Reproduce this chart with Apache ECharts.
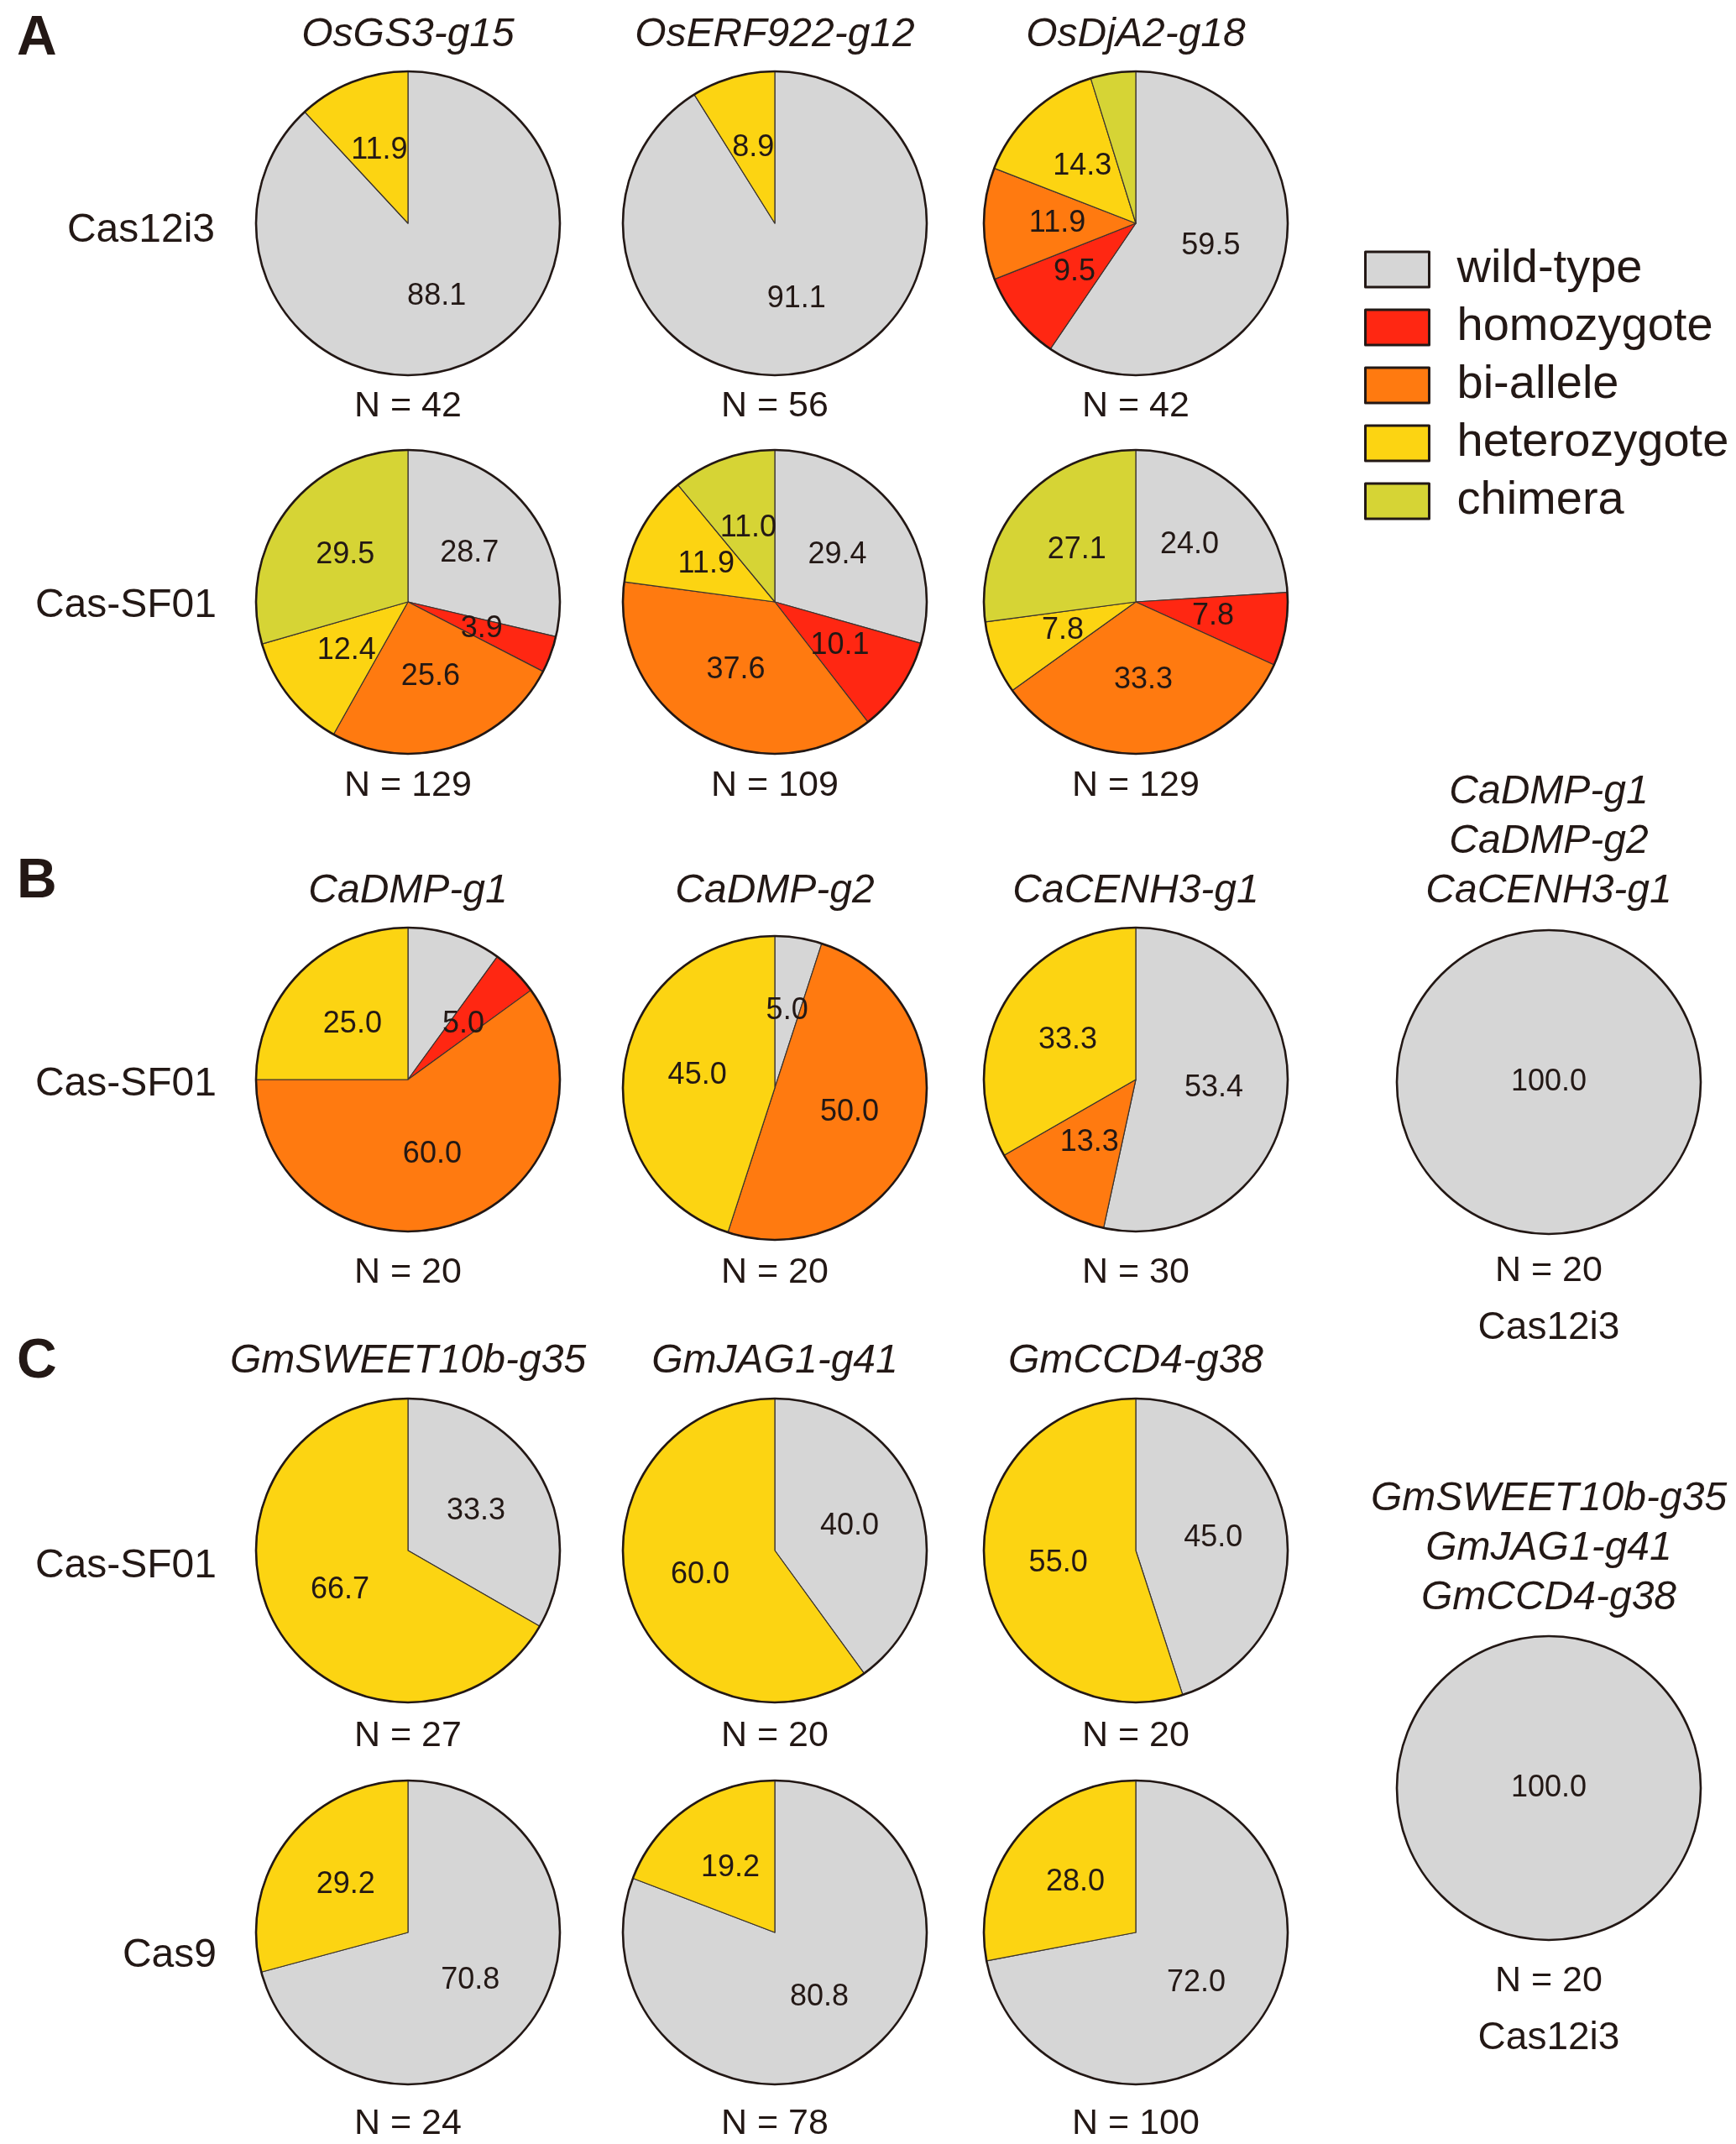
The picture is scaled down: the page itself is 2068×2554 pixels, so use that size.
<!DOCTYPE html>
<html>
<head>
<meta charset="utf-8">
<script src="https://cdn.jsdelivr.net/npm/echarts@6/dist/echarts.min.js"></script>
<style>
html,body{margin:0;padding:0;background:#fff;}
#c{width:2068px;height:2554px;}
</style>
</head>
<body>
<div id="c"></div>
<script>
// ---- DATA ----
const categories = ['wild-type', 'homozygote', 'bi-allele', 'heterozygote', 'chimera'];
const catColors = ['#D6D6D6', '#FF2712', '#FF7A10', '#FCD412', '#D6D435'];

// Panel A (rice)
const genesA = ['OsGS3-g15', 'OsERF922-g12', 'OsDjA2-g18'];
const A_Cas12i3 = [[88.1, 0, 0, 11.9, 0], [91.1, 0, 0, 8.9, 0], [59.5, 9.5, 11.9, 14.3, 4.8]];
const A_Cas12i3_N = [42, 56, 42];
const A_CasSF01 = [[28.7, 3.9, 25.6, 12.4, 29.5], [29.4, 10.1, 37.6, 11.9, 11.0], [24.0, 7.8, 33.3, 7.8, 27.1]];
const A_CasSF01_N = [129, 109, 129];

// Panel B (pepper)
const genesB = ['CaDMP-g1', 'CaDMP-g2', 'CaCENH3-g1'];
const B_CasSF01 = [[10.0, 5.0, 60.0, 25.0, 0], [5.0, 0, 50.0, 45.0, 0], [53.4, 0, 13.3, 33.3, 0]];
const B_CasSF01_N = [20, 20, 30];
const B_Cas12i3 = [100.0, 0, 0, 0, 0];
const B_Cas12i3_N = 20;

// Panel C (soybean)
const genesC = ['GmSWEET10b-g35', 'GmJAG1-g41', 'GmCCD4-g38'];
const C_CasSF01 = [[33.3, 0, 0, 66.7, 0], [40.0, 0, 0, 60.0, 0], [45.0, 0, 0, 55.0, 0]];
const C_CasSF01_N = [27, 20, 20];
const C_Cas9 = [[70.8, 0, 0, 29.2, 0], [80.8, 0, 0, 19.2, 0], [72.0, 0, 0, 28.0, 0]];
const C_Cas9_N = [24, 78, 100];
const C_Cas12i3 = [100.0, 0, 0, 0, 0];
const C_Cas12i3_N = 20;

// ---- LAYOUT ----
const FONT = '"Liberation Sans", Arial, Helvetica, sans-serif';
const INK = '#231815';
const R = 181;
const colX = [486, 923, 1353];
const rightX = 1845;
const TITLE = 48, ROW = 48, NSZ = 43, LAB = 36;

const series = [];
const graphics = [];

function txt(text, x, y, size, opts) {
  opts = opts || {};
  graphics.push({
    type: 'text', x: x, y: y, silent: true,
    style: {
      text: text, fill: INK,
      font: (opts.style || 'normal') + ' ' + (opts.weight || 'normal') + ' ' + size + 'px ' + FONT,
      align: opts.align || 'center', verticalAlign: 'middle'
    }
  });
}

function pie(values, cx, cy) {
  const data = [];
  values.forEach((v, i) => {
    if (v > 0) data.push({ name: categories[i], value: v, itemStyle: { color: catColors[i] } });
  });
  series.push({
    type: 'pie', center: [cx, cy], radius: R, startAngle: 90, clockwise: true,
    avoidLabelOverlap: false, animation: false, silent: true,
    itemStyle: { borderColor: '#3a332f', borderWidth: 1.2 },
    label: {
      show: true, position: data.length === 1 ? 'center' : 'inside',
      color: INK, fontFamily: FONT, fontSize: LAB,
      formatter: p => p.value.toFixed(1)
    },
    labelLine: { show: false },
    emphasis: { disabled: true },
    data: data
  });
  // outer outline
  series.push({
    type: 'pie', center: [cx, cy], radius: R, animation: false, silent: true, z: 5,
    itemStyle: { color: 'rgba(0,0,0,0)', borderColor: INK, borderWidth: 2.6 },
    label: { show: false }, labelLine: { show: false }, emphasis: { disabled: true },
    data: [{ name: '_outline', value: 1 }]
  });
}

// Panel A
txt('A', 20, 47, 66, { weight: 'bold', align: 'left' });
genesA.forEach((g, i) => txt(g, colX[i], 42, TITLE, { style: 'italic' }));
txt('Cas12i3', 256, 275, ROW, { align: 'right' });
txt('Cas-SF01', 258, 722, ROW, { align: 'right' });
A_Cas12i3.forEach((v, i) => { pie(v, colX[i], 266); txt('N = ' + A_Cas12i3_N[i], colX[i], 484, NSZ); });
A_CasSF01.forEach((v, i) => { pie(v, colX[i], 717); txt('N = ' + A_CasSF01_N[i], colX[i], 936, NSZ); });

// Panel B
const bY = [1286, 1296, 1286];
txt('B', 20, 1051, 66, { weight: 'bold', align: 'left' });
genesB.forEach((g, i) => txt(g, colX[i], 1062, TITLE, { style: 'italic' }));
txt('Cas-SF01', 258, 1292, ROW, { align: 'right' });
B_CasSF01.forEach((v, i) => { pie(v, colX[i], bY[i]); txt('N = ' + B_CasSF01_N[i], colX[i], 1516, NSZ); });
genesB.forEach((g, i) => txt(g, rightX, 944 + i * 59, TITLE, { style: 'italic' }));
pie(B_Cas12i3, rightX, 1289);
txt('N = ' + B_Cas12i3_N, rightX, 1514, NSZ);
txt('Cas12i3', rightX, 1582, 46);

// Panel C
txt('C', 20, 1623, 66, { weight: 'bold', align: 'left' });
genesC.forEach((g, i) => txt(g, colX[i], 1622, TITLE, { style: 'italic' }));
txt('Cas-SF01', 258, 1866, ROW, { align: 'right' });
txt('Cas9', 258, 2330, ROW, { align: 'right' });
C_CasSF01.forEach((v, i) => { pie(v, colX[i], 1847); txt('N = ' + C_CasSF01_N[i], colX[i], 2068, NSZ); });
C_Cas9.forEach((v, i) => { pie(v, colX[i], 2302); txt('N = ' + C_Cas9_N[i], colX[i], 2530, NSZ); });
genesC.forEach((g, i) => txt(g, rightX, 1786 + i * 59, TITLE, { style: 'italic' }));
pie(C_Cas12i3, rightX, 2130);
txt('N = ' + C_Cas12i3_N, rightX, 2360, NSZ);
txt('Cas12i3', rightX, 2428, 46);

const chart = echarts.init(document.getElementById('c'), null, { renderer: 'canvas' });
chart.setOption({
  backgroundColor: '#ffffff',
  animation: false,
  legend: {
    data: categories.map((c, i) => ({ name: c, itemStyle: { color: catColors[i] } })),
    orient: 'vertical', left: 1620, top: 288,
    icon: 'rect', itemWidth: 76, itemHeight: 42, itemGap: 13,
    selectedMode: false,
    itemStyle: { borderColor: INK, borderWidth: 3 },
    textStyle: { color: INK, fontFamily: FONT, fontSize: 56, padding: [0, 0, 0, 28] }
  },
  series: series,
  graphic: graphics
});
</script>
</body>
</html>
